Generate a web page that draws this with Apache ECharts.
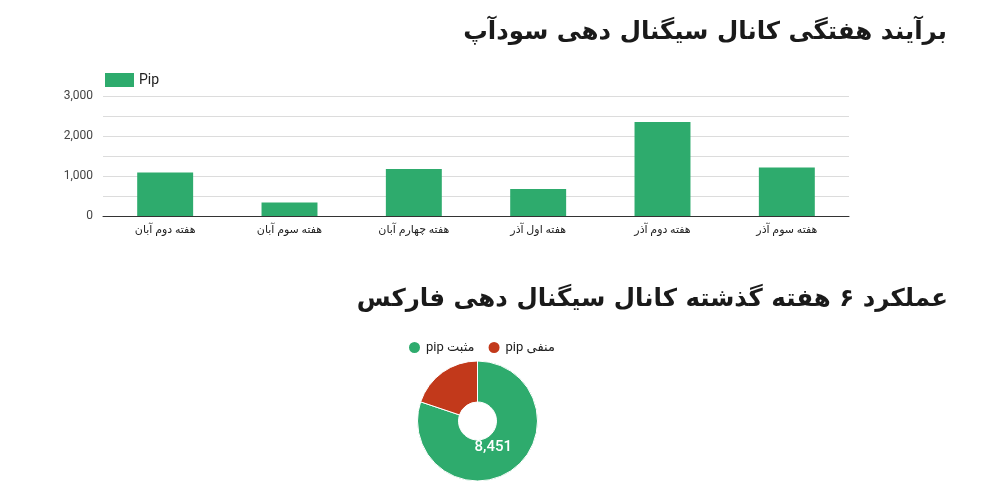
<!DOCTYPE html>
<html>
<head>
<meta charset="utf-8">
<script src="https://cdn.jsdelivr.net/npm/echarts@6/dist/echarts.min.js"></script>
<style>
  html, body { margin: 0; padding: 0; background: #fff; }
  #chart { width: 990px; height: 498px; }
</style>
</head>
<body>
<div id="chart"></div>
<script>
// Weekly pip totals of the signal channel
const weekLabels = ['هفته دوم آبان', 'هفته سوم آبان', 'هفته چهارم آبان', 'هفته اول آذر', 'هفته دوم آذر', 'هفته سوم آذر'];
const weeklyPips = [1085, 335, 1175, 675, 2350, 1215];
const yTicks = [0, 1000, 2000, 3000];

// Six-week performance split into positive / negative pips
const pieNames = ['pip مثبت', 'pip منفی'];
const pieValues = [8451, 2090];

const GREEN = '#2eab6d';
const RED = '#c2391b';
const FONT = 'Roboto, "DejaVu Sans", sans-serif';
const TITLE_FONT = '"DejaVu Sans", sans-serif';

const chart = echarts.init(document.getElementById('chart'), null, { renderer: 'canvas' });

chart.setOption({
  animation: false,
  backgroundColor: '#fff',
  textStyle: { fontFamily: FONT },
  title: [
    {
      text: 'برآیند هفتگی کانال سیگنال دهی سودآپ',
      right: 38, top: 15,
      textStyle: { fontFamily: TITLE_FONT, fontWeight: 'bold', fontSize: 24.5, color: '#1a1a1a' }
    },
    {
      text: 'عملکرد ۶ هفته گذشته کانال سیگنال دهی فارکس',
      right: 37, top: 282,
      textStyle: { fontFamily: TITLE_FONT, fontWeight: 'bold', fontSize: 24.5, color: '#1a1a1a' }
    }
  ],
  legend: [
    {
      data: ['Pip'],
      left: 100, top: 68,
      icon: 'rect',
      itemWidth: 29, itemHeight: 14,
      itemGap: 6,
      textStyle: { fontFamily: FONT, fontSize: 14, color: '#222' }
    },
    {
      data: pieNames,
      left: 402, top: 335,
      icon: 'circle',
      itemWidth: 13, itemHeight: 13,
      itemGap: 12,
      textStyle: { fontFamily: FONT, fontSize: 13, color: '#222' }
    }
  ],
  grid: { left: 103, right: 141, top: 96, height: 120, containLabel: false },
  xAxis: {
    type: 'category',
    data: weekLabels,
    axisLine: { show: true, lineStyle: { color: '#333', width: 1 } },
    axisTick: { show: false },
    axisLabel: { fontFamily: FONT, fontSize: 11, color: '#222', margin: 9 }
  },
  yAxis: {
    type: 'value',
    min: 0, max: 3000, interval: 500,
    axisLine: { show: false },
    axisTick: { show: false },
    splitLine: { lineStyle: { color: '#dcdcdc', width: 1 } },
    axisLabel: {
      fontFamily: FONT, fontSize: 12, color: '#444', margin: 10,
      formatter: v => (yTicks.indexOf(v) >= 0 ? v.toLocaleString('en-US') : '')
    }
  },
  series: [
    {
      name: 'Pip',
      type: 'bar',
      data: weeklyPips,
      barWidth: '45%',
      itemStyle: { color: GREEN },
      emphasis: { disabled: true }
    },
    {
      name: 'pie',
      type: 'pie',
      center: [477.5, 421],
      radius: [19, 60],
      startAngle: 90,
      clockwise: true,
      avoidLabelOverlap: false,
      itemStyle: { borderColor: '#fff', borderWidth: 1 },
      label: {
        show: true,
        position: 'inside',
        color: '#fff',
        fontFamily: FONT,
        fontSize: 15,
        fontWeight: 500,
        offset: [-9, -8],
        formatter: p => p.value.toLocaleString('en-US')
      },
      labelLine: { show: false },
      emphasis: { disabled: true },
      data: [
        { name: pieNames[0], value: pieValues[0], itemStyle: { color: GREEN } },
        { name: pieNames[1], value: pieValues[1], itemStyle: { color: RED }, label: { show: false } }
      ]
    }
  ]
});
</script>
</body>
</html>
